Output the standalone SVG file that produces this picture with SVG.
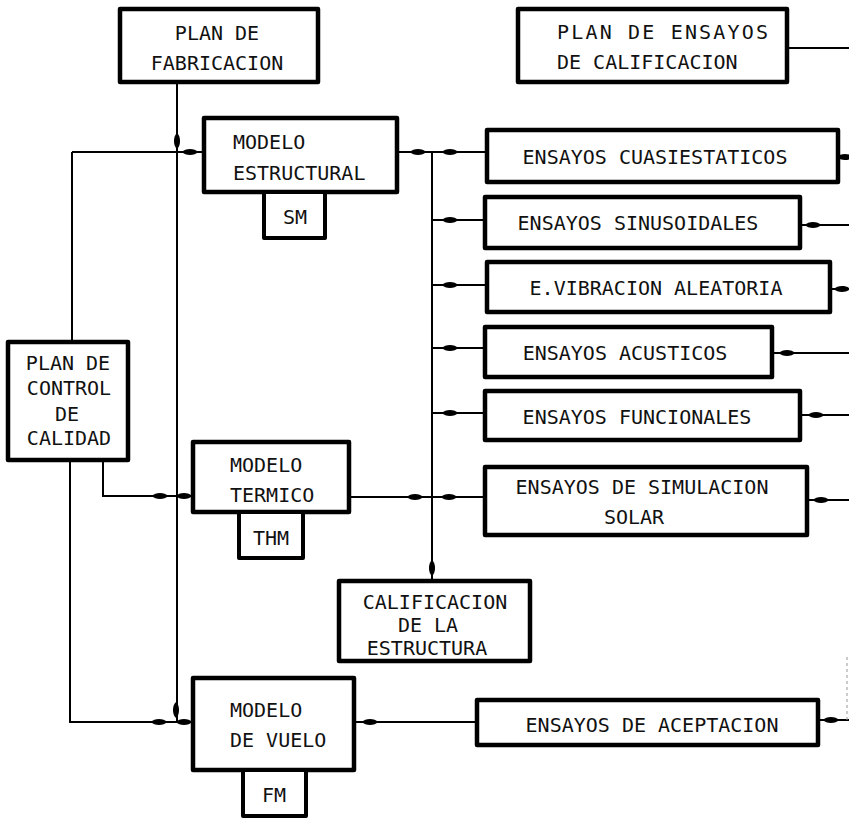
<svg xmlns="http://www.w3.org/2000/svg" xmlns:xlink="http://www.w3.org/1999/xlink" width="849" height="819" viewBox="0 0 849 819">
  <style>
    .box { fill: #fff; stroke: #000; stroke-width: 4.5; stroke-linejoin: round; }
    .sbox { fill: #fff; stroke: #000; stroke-width: 4; stroke-linejoin: round; }
    .ln { fill: none; stroke: #000; stroke-width: 2; }
    .dash { fill: none; stroke: #999; stroke-width: 1; stroke-dasharray: 3 3; }
    text { font-family: "DejaVu Sans Mono", "Liberation Mono", monospace; font-size: 20px; fill: #111; }
    .c { text-anchor: middle; }
  </style>
  <defs>
    <!-- lens-shaped flow marker used on the connector lines -->
    <path id="bh" d="M-8,0 C-5,-4 5,-4 8,0 C5,4 -5,4 -8,0Z" fill="#000"/>
    <path id="bv" d="M0,-8 C-4,-5 -4,5 0,8 C4,5 4,-5 0,-8Z" fill="#000"/>
  </defs>

  <rect width="849" height="819" fill="#fff"/>

  <g id="connectors">
    <!-- manufacturing plan trunk -->
    <path class="ln" d="M177,82 V722"/>
    <!-- quality plan trunk -->
    <path class="ln" d="M72,152 V342"/>
    <path class="ln" d="M70,460 V722 H193"/>
    <path class="ln" d="M72,152 H204"/>
    <path class="ln" d="M103,460 V496 H193"/>
    <!-- structural model to test bus -->
    <path class="ln" d="M397,152 H487"/>
    <path class="ln" d="M432,152 V581"/>
    <path class="ln" d="M432,220 H485"/>
    <path class="ln" d="M432,285 H487"/>
    <path class="ln" d="M432,348 H485"/>
    <path class="ln" d="M432,413 H485"/>
    <path class="ln" d="M349,497 H485"/>
    <!-- flight model to acceptance tests -->
    <path class="ln" d="M354,722 H477"/>
    <!-- links toward the right margin -->
    <path class="ln" d="M787,48 H849"/>
    <path class="ln" d="M838,157 H849"/>
    <path class="ln" d="M800,225 H849"/>
    <path class="ln" d="M830,289 H849"/>
    <path class="ln" d="M772,353 H849"/>
    <path class="ln" d="M800,415 H849"/>
    <path class="ln" d="M807,500 H849"/>
    <path class="ln" d="M818,720 H849"/>
    <path class="dash" d="M847,657 V720"/>

    <!-- flow markers -->
    <use xlink:href="#bv" x="177" y="141"/>
    <use xlink:href="#bh" x="190" y="152"/>
    <use xlink:href="#bh" x="418" y="152"/>
    <use xlink:href="#bh" x="450" y="152"/>
    <use xlink:href="#bh" x="450" y="220"/>
    <use xlink:href="#bh" x="450" y="285"/>
    <use xlink:href="#bh" x="450" y="348"/>
    <use xlink:href="#bh" x="450" y="413"/>
    <use xlink:href="#bh" x="160" y="496"/>
    <use xlink:href="#bh" x="184" y="496"/>
    <use xlink:href="#bh" x="415" y="497"/>
    <use xlink:href="#bh" x="449" y="497"/>
    <use xlink:href="#bv" x="432" y="568"/>
    <use xlink:href="#bv" x="176" y="710"/>
    <use xlink:href="#bh" x="159" y="722"/>
    <use xlink:href="#bh" x="184" y="722"/>
    <use xlink:href="#bh" x="370" y="722"/>
    <use xlink:href="#bh" x="845" y="157"/>
    <use xlink:href="#bh" x="813" y="225"/>
    <use xlink:href="#bh" x="842" y="289"/>
    <use xlink:href="#bh" x="787" y="353"/>
    <use xlink:href="#bh" x="816" y="415"/>
    <use xlink:href="#bh" x="821" y="500"/>
    <use xlink:href="#bh" x="831" y="720"/>
  </g>

  <g id="plan-fabricacion">
    <rect class="box" x="120" y="9" width="198" height="73"/>
    <text class="c" x="217" y="40">PLAN DE</text>
    <text class="c" x="217" y="70">FABRICACION</text>
  </g>

  <g id="plan-ensayos">
    <rect class="box" x="518" y="9" width="269" height="73"/>
    <text x="557" y="39" textLength="211" lengthAdjust="spacing">PLAN DE ENSAYOS</text>
    <text x="557" y="69">DE CALIFICACION</text>
  </g>

  <g id="modelo-estructural">
    <rect class="box" x="204" y="118" width="193" height="74"/>
    <text x="233" y="149">MODELO</text>
    <text x="233" y="180">ESTRUCTURAL</text>
  </g>

  <g id="sm">
    <rect class="sbox" x="264" y="192" width="61" height="46"/>
    <text class="c" x="295" y="224">SM</text>
  </g>

  <g id="ensayos-cuasiestaticos">
    <rect class="box" x="487" y="130" width="351" height="52"/>
    <text class="c" x="655" y="164">ENSAYOS CUASIESTATICOS</text>
  </g>

  <g id="ensayos-sinusoidales">
    <rect class="box" x="485" y="197" width="315" height="51"/>
    <text class="c" x="638" y="230">ENSAYOS SINUSOIDALES</text>
  </g>

  <g id="vibracion-aleatoria">
    <rect class="box" x="487" y="262" width="343" height="50"/>
    <text class="c" x="656" y="295">E.VIBRACION ALEATORIA</text>
  </g>

  <g id="ensayos-acusticos">
    <rect class="box" x="485" y="327" width="287" height="50"/>
    <text class="c" x="625" y="360">ENSAYOS ACUSTICOS</text>
  </g>

  <g id="ensayos-funcionales">
    <rect class="box" x="485" y="391" width="315" height="49"/>
    <text class="c" x="637" y="424">ENSAYOS FUNCIONALES</text>
  </g>

  <g id="simulacion-solar">
    <rect class="box" x="485" y="467" width="322" height="68"/>
    <text class="c" x="642" y="494">ENSAYOS DE SIMULACION</text>
    <text class="c" x="634" y="524">SOLAR</text>
  </g>

  <g id="plan-control-calidad">
    <rect class="box" x="8" y="342" width="120" height="118"/>
    <text class="c" x="68" y="370">PLAN DE</text>
    <text class="c" x="69" y="395">CONTROL</text>
    <text class="c" x="67" y="421">DE</text>
    <text class="c" x="69" y="445">CALIDAD</text>
  </g>

  <g id="modelo-termico">
    <rect class="box" x="193" y="442" width="156" height="70"/>
    <text x="230" y="472">MODELO</text>
    <text x="230" y="502">TERMICO</text>
  </g>

  <g id="thm">
    <rect class="sbox" x="239" y="512" width="64" height="46"/>
    <text class="c" x="271" y="545">THM</text>
  </g>

  <g id="calificacion-estructura">
    <rect class="box" x="339" y="581" width="191" height="80"/>
    <text class="c" x="435" y="609">CALIFICACION</text>
    <text class="c" x="428" y="632">DE LA</text>
    <text class="c" x="427" y="655">ESTRUCTURA</text>
  </g>

  <g id="modelo-vuelo">
    <rect class="box" x="193" y="678" width="161" height="92"/>
    <text x="230" y="717">MODELO</text>
    <text x="230" y="747">DE VUELO</text>
  </g>

  <g id="fm">
    <rect class="sbox" x="243" y="770" width="63" height="46"/>
    <text class="c" x="274" y="802">FM</text>
  </g>

  <g id="ensayos-aceptacion">
    <rect class="box" x="477" y="700" width="341" height="45"/>
    <text class="c" x="652" y="732">ENSAYOS DE ACEPTACION</text>
  </g>
</svg>
